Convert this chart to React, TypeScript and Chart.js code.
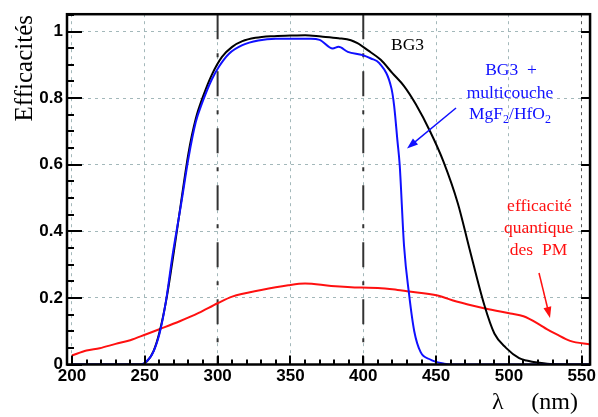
import React, { useEffect, useRef } from "react";
import { Chart, registerables } from "chart.js";

Chart.register(...registerables);

// ---- axis ranges / ticks ----
const X_MIN = 196.6;
const X_MAX = 555.7;
const Y_MIN = 0;
const Y_MAX = 1.052;
const X_STEP = 50;
const X_MINOR_STEP = 10;
const Y_STEP = 0.2;
const Y_MINOR_STEP = 0.05;

// ---- BG3 filter transmission (black) ----
const bg3Wavelengths = [200, 248, 252, 256, 260, 265, 270, 275, 280, 285, 290, 296, 303, 310, 317, 326, 337, 350, 360, 371, 383, 391.5, 396, 403, 412, 420, 428, 436, 446, 455, 465, 473, 483, 490, 498, 507, 512, 521, 530, 556];
const bg3Values = [0, 0, 0.012, 0.04, 0.095, 0.2, 0.34, 0.49, 0.635, 0.738, 0.805, 0.87, 0.924, 0.954, 0.971, 0.981, 0.986, 0.988, 0.989, 0.985, 0.98, 0.974, 0.965, 0.944, 0.915, 0.875, 0.836, 0.782, 0.699, 0.61, 0.483, 0.346, 0.18, 0.093, 0.05, 0.019, 0.012, 0.005, 0.001, 0];

// ---- BG3 + multicouche MgF2/HfO2 (blue) ----
const multiWavelengths = [200, 247, 250, 255, 260, 264.5, 269, 275, 280, 285, 289.5, 296, 301, 308, 317, 328, 340, 364, 370, 379, 383, 389.4, 399.6, 405.3, 411, 419.3, 421.2, 423.5, 425, 428, 431.5, 435, 439.4, 446, 448.5, 455, 460, 556];
const multiValues = [0, 0, 0.005, 0.03, 0.091, 0.189, 0.326, 0.483, 0.62, 0.728, 0.787, 0.856, 0.895, 0.934, 0.959, 0.973, 0.978, 0.978, 0.975, 0.949, 0.954, 0.939, 0.929, 0.919, 0.905, 0.83, 0.777, 0.67, 0.6, 0.356, 0.209, 0.1, 0.037, 0.015, 0.01, 0.003, 0, 0];

// ---- efficacité quantique des PM (red) ----
const pmWavelengths = [200, 210, 219, 230, 240, 251, 260, 274, 287, 300, 310, 330, 348.5, 360, 378, 398.5, 410, 423.5, 430, 451, 464, 483, 501, 510, 521, 526, 532.5, 542, 556];
const pmValues = [0.027, 0.042, 0.049, 0.062, 0.073, 0.091, 0.106, 0.13, 0.155, 0.184, 0.204, 0.224, 0.238, 0.243, 0.236, 0.231, 0.23, 0.224, 0.22, 0.207, 0.189, 0.169, 0.153, 0.145, 0.12, 0.106, 0.091, 0.071, 0.06];

// ---- reference wavelengths (dash-dot lines) ----
const markerWavelengths = [300, 400];

const toPoints = (xs: number[], ys: number[]) => xs.map((x, i) => ({ x, y: ys[i] }));

const SERIF = "'Liberation Serif', 'Times New Roman', serif";
const SANS = "'Liberation Sans', Arial, sans-serif";

function drawArrow(ctx: CanvasRenderingContext2D, x1: number, y1: number, x2: number, y2: number, color: string) {
  const ang = Math.atan2(y2 - y1, x2 - x1);
  const hl = 11;
  const hw = 4;
  ctx.save();
  ctx.strokeStyle = color;
  ctx.fillStyle = color;
  ctx.lineWidth = 1.5;
  ctx.beginPath();
  ctx.moveTo(x1, y1);
  ctx.lineTo(x2 - Math.cos(ang) * hl * 0.8, y2 - Math.sin(ang) * hl * 0.8);
  ctx.stroke();
  ctx.beginPath();
  ctx.moveTo(x2, y2);
  ctx.lineTo(x2 - Math.cos(ang) * hl - Math.sin(ang) * hw, y2 - Math.sin(ang) * hl + Math.cos(ang) * hw);
  ctx.lineTo(x2 - Math.cos(ang) * hl + Math.sin(ang) * hw, y2 - Math.sin(ang) * hl - Math.cos(ang) * hw);
  ctx.closePath();
  ctx.fill();
  ctx.restore();
}

const decorPlugin = {
  id: "decor",
  afterDraw(chart: any) {
    const ctx: CanvasRenderingContext2D = chart.ctx;
    const { left, right, top, bottom } = chart.chartArea;
    const xs = chart.scales.x;
    const ys = chart.scales.y;
    ctx.save();
    // frame
    ctx.strokeStyle = "#000";
    ctx.lineWidth = 2.5;
    ctx.strokeRect(left, top, right - left, bottom - top);
    // ticks
    ctx.lineWidth = 2;
    ctx.beginPath();
    for (let v = 200; v <= 550 + 1e-6; v += X_MINOR_STEP) {
      const px = Math.round(xs.getPixelForValue(v));
      const major = Math.abs(v % X_STEP) < 1e-6;
      ctx.moveTo(px, bottom);
      ctx.lineTo(px, bottom - (major ? 9 : 5));
    }
    for (let k = 0; k * Y_MINOR_STEP <= Y_MAX + 1e-6; k++) {
      const v = k * Y_MINOR_STEP;
      const py = Math.round(ys.getPixelForValue(v));
      const major = k % 4 === 0;
      ctx.moveTo(left, py);
      ctx.lineTo(left + (major ? 15 : 7), py);
      if (major) {
        ctx.moveTo(right, py);
        ctx.lineTo(right - 9, py);
      }
    }
    ctx.stroke();

    // axis titles
    ctx.fillStyle = "#000";
    ctx.font = `25px ${SERIF}`;
    ctx.save();
    ctx.translate(32, 15);
    ctx.rotate(-Math.PI / 2);
    ctx.textAlign = "right";
    ctx.textBaseline = "alphabetic";
    ctx.fillText("Efficacités", 0, 0);
    ctx.restore();
    ctx.font = `24px ${SERIF}`;
    ctx.textBaseline = "alphabetic";
    ctx.textAlign = "left";
    ctx.fillText("λ", 492, 409);
    ctx.textAlign = "right";
    ctx.fillText("(nm)", 578, 409);

    // annotations
    ctx.font = `17.5px ${SERIF}`;
    ctx.textAlign = "center";
    ctx.fillStyle = "#000";
    ctx.fillText("BG3", 407.5, 50);

    ctx.fillStyle = "#1010ff";
    ctx.fillText("BG3  +", 511, 75);
    ctx.fillText("multicouche", 510, 98);
    const parts: [string, boolean][] = [["MgF", false], ["2", true], ["/HfO", false], ["2", true]];
    const mainFont = `17.5px ${SERIF}`;
    const subFont = `12px ${SERIF}`;
    let total = 0;
    for (const [t, sub] of parts) {
      ctx.font = sub ? subFont : mainFont;
      total += ctx.measureText(t).width;
    }
    let cx = 510 - total / 2;
    ctx.textAlign = "left";
    for (const [t, sub] of parts) {
      ctx.font = sub ? subFont : mainFont;
      ctx.fillText(t, cx, sub ? 123 : 119);
      cx += ctx.measureText(t).width;
    }
    drawArrow(ctx, 456, 108, 407, 148.5, "#1010ff");

    ctx.font = mainFont;
    ctx.textAlign = "center";
    ctx.fillStyle = "#ff1010";
    ctx.fillText("efficacité", 539.5, 211);
    ctx.fillText("quantique", 538.5, 232.5);
    ctx.fillText("des  PM", 538.5, 255);
    drawArrow(ctx, 539, 273, 550, 318, "#ff1010");

    ctx.restore();
  },
};

export default function App() {
  const ref = useRef<HTMLCanvasElement | null>(null);
  useEffect(() => {
    if (!ref.current) return;
    const markerSets = markerWavelengths.map((w) => ({
      label: `λ = ${w} nm`,
      data: [
        { x: w, y: Y_MAX },
        { x: w, y: Y_MIN },
      ],
      borderColor: "#333",
      borderWidth: 2,
      borderDash: [25, 14, 4, 14],
      pointRadius: 0,
      order: 10,
    }));
    const chart = new Chart(ref.current, {
      type: "line",
      data: {
        datasets: [
          {
            label: "efficacité quantique des PM",
            data: toPoints(pmWavelengths, pmValues),
            borderColor: "#ff1010",
            borderWidth: 2,
            pointRadius: 0,
            cubicInterpolationMode: "monotone",
            order: 3,
          },
          {
            label: "BG3",
            data: toPoints(bg3Wavelengths, bg3Values),
            borderColor: "#000",
            borderWidth: 2,
            pointRadius: 0,
            cubicInterpolationMode: "monotone",
            order: 2,
          },
          {
            label: "BG3 + multicouche MgF2/HfO2",
            data: toPoints(multiWavelengths, multiValues),
            borderColor: "#1010ff",
            borderWidth: 2,
            pointRadius: 0,
            cubicInterpolationMode: "monotone",
            order: 1,
          },
          ...markerSets,
        ] as any,
      },
      options: {
        animation: false,
        responsive: false,
        devicePixelRatio: 1,
        layout: { padding: { top: 6.5, right: 4, left: 0, bottom: 0 } },
        plugins: { legend: { display: false }, tooltip: { enabled: false } },
        scales: {
          x: {
            type: "linear",
            min: X_MIN,
            max: X_MAX,
            afterFit: (s: any) => {
              s.height = 52.5;
            },
            ticks: {
              stepSize: X_STEP,
              includeBounds: false,
              autoSkip: false,
              maxRotation: 0,
              padding: 2,
              color: "#000",
              font: { family: SANS, size: 17, weight: "bold" },
            },
            grid: {
              drawTicks: false,
              color: (c: any) => (c.tick && c.tick.value === 550 ? "#555" : "#a3b8ba"),
              lineWidth: 1,
            },
            border: { display: false, dash: [3, 4] },
          },
          y: {
            type: "linear",
            min: Y_MIN,
            max: Y_MAX,
            afterFit: (s: any) => {
              s.width = 67;
            },
            ticks: {
              stepSize: Y_STEP,
              includeBounds: false,
              padding: 4,
              color: "#000",
              font: { family: SANS, size: 17, weight: "bold" },
              callback: (v: any) => String(Number(Number(v).toFixed(1))),
            },
            grid: { drawTicks: false, color: "#a3b8ba", lineWidth: 1 },
            border: { display: false, dash: [3, 4] },
          },
        },
      } as any,
      plugins: [decorPlugin],
    });
    return () => chart.destroy();
  }, []);
  return (
    <canvas
      ref={ref}
      width={598}
      height={417}
      style={{ position: "fixed", left: 0, top: 0, width: 598, height: 417, display: "block", background: "#fff" }}
    />
  );
}
